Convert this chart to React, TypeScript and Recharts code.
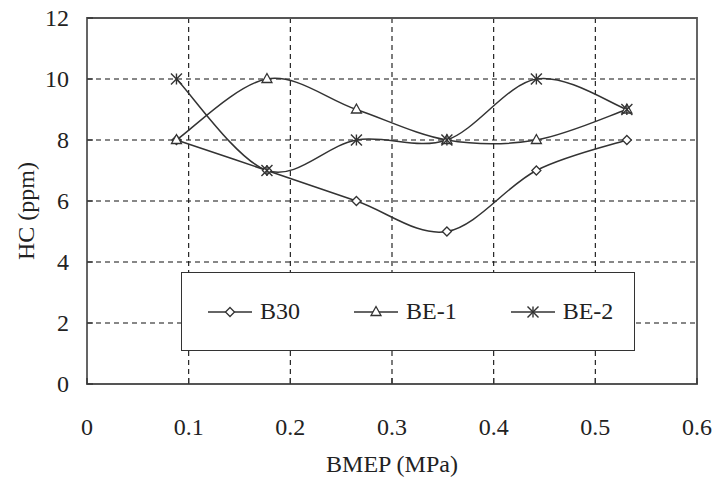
import React from "react";
import {
  LineChart, Line, XAxis, YAxis, CartesianGrid, ReferenceArea, Legend,
} from "recharts";

// HC emissions vs. engine load for three fuel blends
const bmep = [0.088, 0.177, 0.265, 0.354, 0.442, 0.531];
const b30 = [8, 7, 6, 5, 7, 8];
const be1 = [8, 10, 9, 8, 8, 9];
const be2 = [10, 7, 8, 8, 10, 9];

const xTicks = [0, 0.1, 0.2, 0.3, 0.4, 0.5, 0.6];
const yTicks = [0, 2, 4, 6, 8, 10, 12];

const data = bmep.map((x, i) => ({ bmep: x, b30: b30[i], be1: be1[i], be2: be2[i] }));

const FONT = "Liberation Serif";
const INK = "#222";
const LINE = "#333";

// spreadsheet-style smoothed line (Catmull-Rom through every point)
const smoothCurve = (context: any) => {
  let pts: [number, number][] = [];
  return {
    areaStart() {},
    areaEnd() {},
    lineStart() { pts = []; },
    point(x: number, y: number) { pts.push([+x, +y]); },
    lineEnd() {
      const n = pts.length;
      if (!n) return;
      context.moveTo(pts[0][0], pts[0][1]);
      for (let i = 0; i < n - 1; i++) {
        const p0 = pts[Math.max(i - 1, 0)];
        const p1 = pts[i];
        const p2 = pts[i + 1];
        const p3 = pts[Math.min(i + 2, n - 1)];
        context.bezierCurveTo(
          p1[0] + (p2[0] - p0[0]) / 6, p1[1] + (p2[1] - p0[1]) / 6,
          p2[0] - (p3[0] - p1[0]) / 6, p2[1] - (p3[1] - p1[1]) / 6,
          p2[0], p2[1],
        );
      }
    },
  };
};

type Shape = "diamond" | "triangle" | "star";

function Marker({ cx, cy, shape }: { cx: number; cy: number; shape: Shape }) {
  if (shape === "diamond") {
    const r = 4.5;
    return (
      <polygon points={`${cx},${cy - r} ${cx + r},${cy} ${cx},${cy + r} ${cx - r},${cy}`}
        fill="#fff" stroke={LINE} strokeWidth={1.3} />
    );
  }
  if (shape === "triangle") {
    return (
      <polygon points={`${cx},${cy - 5.5} ${cx + 5},${cy + 3.5} ${cx - 5},${cy + 3.5}`}
        fill="#fff" stroke={LINE} strokeWidth={1.3} />
    );
  }
  const r = 5.5;
  return (
    <g stroke={LINE} strokeWidth={1.4}>
      <line x1={cx} y1={cy - r} x2={cx} y2={cy + r} />
      <line x1={cx - r} y1={cy - r} x2={cx + r} y2={cy + r} />
      <line x1={cx - r} y1={cy + r} x2={cx + r} y2={cy - r} />
    </g>
  );
}

const shapes: Record<string, Shape> = { b30: "diamond", be1: "triangle", be2: "star" };

const dotFor = (shape: Shape) => (props: any) => (
  <Marker key={`${shape}-${props.index}`} cx={props.cx} cy={props.cy} shape={shape} />
);

const X_MARGIN = 34;
const Y_MARGIN = 18;

function XTick(props: any) {
  const { x, y, payload } = props;
  const axisY = y - X_MARGIN;
  return (
    <g>
      <line x1={x} y1={axisY} x2={x} y2={axisY - 6} stroke={LINE} strokeWidth={1.3} />
      <text x={x} y={y} dy="0.71em" textAnchor="middle" fill={INK}
        style={{ fontFamily: FONT, fontSize: 24 }}>{String(payload.value)}</text>
    </g>
  );
}

function YTick(props: any) {
  const { x, y, payload } = props;
  const axisX = x + Y_MARGIN;
  return (
    <g>
      <line x1={axisX} y1={y} x2={axisX + 6} y2={y} stroke={LINE} strokeWidth={1.3} />
      <text x={x} y={y} dy="0.35em" textAnchor="end" fill={INK}
        style={{ fontFamily: FONT, fontSize: 24 }}>{String(payload.value)}</text>
    </g>
  );
}

function LegendBox(props: any) {
  const items = props.payload || [];
  return (
    <div style={{
      boxSizing: "border-box", width: 454, height: 79, border: `1.5px solid ${LINE}`,
      background: "#fff", display: "flex", alignItems: "center", paddingLeft: 26,
      gap: 54, fontFamily: FONT, fontSize: 24, color: INK,
    }}>
      {items.map((it: any) => (
        <div key={it.value} style={{ display: "flex", alignItems: "center", gap: 8 }}>
          <svg width={44} height={16}>
            <line x1={0} y1={8} x2={44} y2={8} stroke={LINE} strokeWidth={1.5} />
            <Marker cx={22} cy={8} shape={shapes[it.dataKey]} />
          </svg>
          <span>{it.value}</span>
        </div>
      ))}
    </div>
  );
}

export default function App() {
  return (
    <div style={{ position: "absolute", left: 0, top: 0, background: "#fff", fontFamily: FONT }}>
      <LineChart width={717} height={483} data={data}
        margin={{ top: 18, right: 20, left: 0, bottom: 0 }}>
        <CartesianGrid stroke="#111" strokeDasharray="5 4" strokeWidth={1.1}
          horizontalValues={[2, 4, 6, 8, 10]} verticalValues={[0.1, 0.2, 0.3, 0.4, 0.5]} />
        <XAxis type="number" dataKey="bmep" domain={[0, 0.6]} ticks={xTicks}
          height={99} axisLine={false} tickLine={false} tickSize={0} tickMargin={X_MARGIN}
          tick={<XTick />} interval={0}
          label={{ value: "BMEP (MPa)", position: "insideBottom", offset: 11,
            fill: INK, style: { fontFamily: FONT, fontSize: 24 } }} />
        <YAxis type="number" domain={[0, 12]} ticks={yTicks} width={87}
          axisLine={false} tickLine={false} tickSize={0} tickMargin={Y_MARGIN}
          tick={<YTick />} interval={0}
          label={{
            content: ({ viewBox }: any) => (
              <text x={viewBox.x + 26} y={viewBox.y + viewBox.height / 2 + 10}
                transform={`rotate(-90 ${viewBox.x + 26} ${viewBox.y + viewBox.height / 2 + 10})`}
                textAnchor="middle" dominantBaseline="central" fill={INK}
                style={{ fontFamily: FONT, fontSize: 24 }}>HC (ppm)</text>
            ),
          }} />
        <ReferenceArea x1={0} x2={0.6} y1={0} y2={12} fill="none"
          stroke="#555" strokeWidth={1.8} />
        <Line type={smoothCurve as any} dataKey="b30" name="B30" stroke={LINE} strokeWidth={1.5}
          dot={dotFor("diamond")} activeDot={false} isAnimationActive={false} />
        <Line type={smoothCurve as any} dataKey="be1" name="BE-1" stroke={LINE} strokeWidth={1.5}
          dot={dotFor("triangle")} activeDot={false} isAnimationActive={false} />
        <Line type={smoothCurve as any} dataKey="be2" name="BE-2" stroke={LINE} strokeWidth={1.5}
          dot={dotFor("star")} activeDot={false} isAnimationActive={false} />
        <Legend layout="horizontal" verticalAlign="middle" align="center"
          content={<LegendBox />}
          wrapperStyle={{ left: 181, top: 272, width: 454, height: 79 }} />
      </LineChart>
    </div>
  );
}
